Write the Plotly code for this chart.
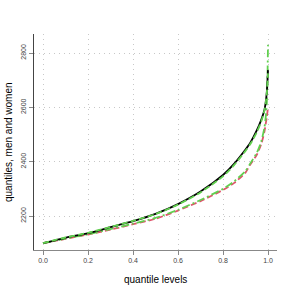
import plotly.graph_objects as go

q_levels = [0.0, 0.1, 0.2, 0.3, 0.4, 0.5, 0.6, 0.7, 0.8, 0.85, 0.9, 0.92, 0.95, 0.97, 0.984, 0.99, 0.995, 1.0]
men_solid = [2100, 2120, 2137, 2159, 2181, 2208, 2244, 2290, 2351, 2393, 2445, 2468, 2515, 2554, 2590, 2620, 2660, 2737]
men_green = [2100, 2121, 2138, 2160, 2182, 2207, 2242, 2287, 2346, 2388, 2440, 2463, 2508, 2548, 2588, 2618, 2655, 2725]
women_red = [2100, 2116, 2132, 2150, 2170, 2190, 2220, 2255, 2296, 2322, 2360, 2388, 2425, 2465, 2510, 2540, 2566, 2600]
women_green = [2100, 2117, 2133, 2152, 2172, 2193, 2223, 2259, 2300, 2328, 2366, 2392, 2432, 2474, 2525, 2565, 2620, 2830]

x_ticks = [0.0, 0.2, 0.4, 0.6, 0.8, 1.0]
x_tick_labels = ["0.0", "0.2", "0.4", "0.6", "0.8", "1.0"]
y_ticks = [2200, 2400, 2600, 2800]

fig = go.Figure()
fig.add_trace(go.Scatter(x=q_levels, y=women_red, mode="lines",
                         line=dict(color="#DF536B", width=1.8, dash="6px,3px", shape="spline", smoothing=0.6)))
fig.add_trace(go.Scatter(x=q_levels, y=women_green, mode="lines",
                         line=dict(color="#61D04F", width=1.8, dash="8px,3px,2px,3px", shape="spline", smoothing=0.6)))
fig.add_trace(go.Scatter(x=q_levels, y=men_solid, mode="lines",
                         line=dict(color="black", width=1.8, shape="spline", smoothing=0.6)))
fig.add_trace(go.Scatter(x=q_levels, y=men_green, mode="lines",
                         line=dict(color="#61D04F", width=1.8, dash="6px,3px", shape="spline", smoothing=0.6)))

fig.update_layout(
    width=294, height=294,
    margin=dict(l=34, r=17, t=34, b=44),
    paper_bgcolor="white", plot_bgcolor="white",
    showlegend=False,
    font=dict(family="Liberation Sans, Arial, sans-serif"),
    annotations=[
        dict(text="quantile levels", xref="paper", yref="paper", x=0.5, y=-0.135,
             xanchor="center", yanchor="middle", showarrow=False,
             font=dict(size=10, color="black")),
        dict(text="quantiles, men and women", xref="paper", yref="paper", x=-0.107, y=0.5,
             xanchor="center", yanchor="middle", showarrow=False, textangle=-90,
             font=dict(size=10, color="black")),
    ],
)
fig.update_xaxes(
    range=[-0.04, 1.04], tickvals=x_ticks, ticktext=x_tick_labels, automargin=False,
    showgrid=True, gridcolor="#c8c8c8", griddash="1px,4px", gridwidth=1,
    showline=True, linecolor="#888888", linewidth=1,
    ticks="outside", ticklen=4, tickcolor="#888888",
    tickfont=dict(size=7, color="#444444"), zeroline=False,
)
fig.update_yaxes(
    range=[2075, 2870], tickvals=y_ticks, automargin=False,
    showgrid=True, gridcolor="#c8c8c8", griddash="1px,4px", gridwidth=1,
    showline=True, linecolor="#444444", linewidth=1,
    ticks="outside", ticklen=4, tickcolor="#888888", tickangle=-90,
    tickfont=dict(size=7, color="#444444"), zeroline=False,
)

fig.write_html("out.html", config={"displayModeBar": False},
               post_script="document.body.style.margin='0';document.body.style.padding='0';")
